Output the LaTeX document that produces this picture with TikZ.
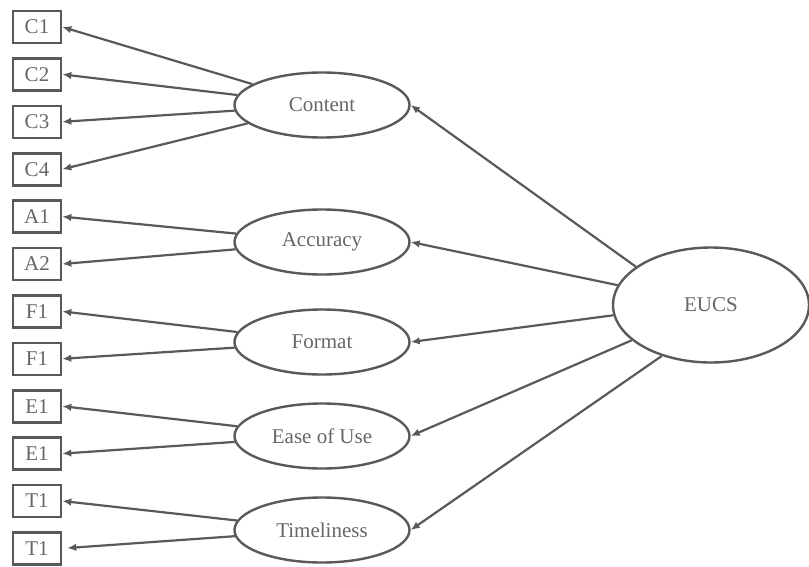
\documentclass[tikz,border=0pt]{standalone}
\usepackage{fontspec}
\setmainfont{Liberation Serif}
\usetikzlibrary{shapes, arrows.meta, positioning}

\definecolor{linegray}{HTML}{595959}
\definecolor{textgray}{HTML}{666666}

\begin{document}
\begin{tikzpicture}[x=1pt, y=-1pt, node distance=12.8pt, line width=2.2pt, font=\fontsize{21}{25}\selectfont]

  % Define styles for indicators, constructs and loadings
  \tikzstyle{indicator} = [draw=linegray, rectangle, line width=2.6pt, minimum width=48pt, minimum height=32pt, inner sep=0pt, text=textgray]
  \tikzstyle{construct} = [draw=linegray, ellipse, line width=2.4pt, minimum width=175pt, minimum height=65pt, inner sep=0pt, text=textgray]
  \tikzstyle{loading} = [-{Latex[length=9pt, width=7.5pt]}, draw=linegray, line width=2.2pt]

  \useasboundingbox (0,0) rectangle (809,566);

  \node (c1) [indicator] at (37,27) {C1};
  \node (c2) [indicator, below=of c1] {C2};
  \node (c3) [indicator, below=of c2] {C3};
  \node (c4) [indicator, below=of c3] {C4};
  \node (a1) [indicator, below=of c4] {A1};
  \node (a2) [indicator, below=of a1] {A2};
  \node (f1) [indicator, below=of a2] {F1};
  \node (f2) [indicator, below=of f1] {F1};
  \node (e1) [indicator, below=of f2] {E1};
  \node (e2) [indicator, below=of e1] {E1};
  \node (t1) [indicator, below=of e2] {T1};
  \node (t2) [indicator, below=of t1] {T1};

  \node (content) [construct] at (322,105) {Content};
  \node (accuracy) [construct] at (322,242) {Accuracy};
  \node (format) [construct] at (322,342) {Format};
  \node (ease) [construct] at (322,436) {Ease of Use};
  \node (timeliness) [construct] at (322,530) {Timeliness};
  \node (eucs) [construct, minimum width=196pt, minimum height=115pt] at (711,305) {EUCS};

  \draw[loading] (content) -- (c1.east);
  \draw[loading] (content) -- (c2.east);
  \draw[loading] (content) -- (c3.east);
  \draw[loading] (content) -- (c4.east);
  \draw[loading] (accuracy) -- (a1.east);
  \draw[loading] (accuracy) -- (a2.east);
  \draw[loading] (format) -- (f1.east);
  \draw[loading] (format) -- (f2.east);
  \draw[loading] (ease) -- (e1.east);
  \draw[loading] (ease) -- (e2.east);
  \draw[loading] (timeliness) -- (t1.east);
  \draw[loading, shorten >=5pt] (timeliness) -- (t2.east);

  \draw[loading] (eucs.153) -- (content.east);
  \draw[loading] (eucs.168) -- (accuracy.east);
  \draw[loading] (eucs.186) -- (format.east);
  \draw[loading] (eucs.204) -- (ease.east);
  \draw[loading] (eucs.226) -- (timeliness.east);

\end{tikzpicture}
\end{document}
